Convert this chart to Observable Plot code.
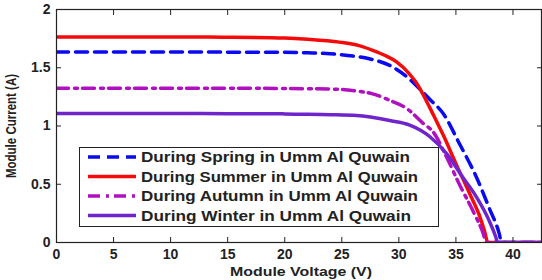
<!DOCTYPE html>
<html>
<head>
<meta charset="utf-8">
<script src="https://cdn.jsdelivr.net/npm/d3@7"></script>
<script src="https://cdn.jsdelivr.net/npm/@observablehq/plot@0.6"></script>
<style>
  html, body { margin: 0; padding: 0; background: #fff; }
  #wrap { position: relative; width: 542px; height: 280px; font-family: "Liberation Sans", Arial, sans-serif; }
  #legend { position: absolute; left: 79px; top: 147px; width: 360px; height: 80px; box-sizing: border-box; border: 1.5px solid #222; background: #fff; }
</style>
</head>
<body>
<div id="wrap"></div>
<script>
// ---- data ----
const seriesNames = [
  "During Spring in Umm Al Quwain",
  "During Summer in Umm Al Quwain",
  "During Autumn in Umm Al Quwain",
  "During Winter in Umm Al Quwain"
];
const springV = [0, 5, 10, 15, 20, 22, 24, 26, 27.4, 29.2, 30.9, 31.5, 32.7, 33.9, 35.3, 36.8, 37.9, 38.8, 39.0, 40, 42.5];
const springI = [1.635, 1.635, 1.635, 1.634, 1.633, 1.628, 1.62, 1.60, 1.577, 1.52, 1.405, 1.35, 1.23, 1.105, 0.85, 0.56, 0.30, 0.075, 0, 0, 0];
const summerV = [0, 5, 10, 15, 20, 22, 24.8, 26.5, 27.7, 28.8, 29.8, 30.9, 31.5, 32.7, 33.3, 33.9, 35.0, 36.2, 37.1, 37.5, 37.8, 40, 42.5];
const summerI = [1.765, 1.765, 1.764, 1.762, 1.755, 1.745, 1.72, 1.69, 1.65, 1.605, 1.55, 1.45, 1.375, 1.16, 1.04, 0.92, 0.676, 0.42, 0.22, 0.1, 0, 0, 0];
const autumnV = [0, 5, 10, 15, 20, 22, 24.8, 26.3, 27.7, 29.2, 30.7, 32.1, 33.0, 34.2, 35.3, 36.5, 37.4, 37.65, 40, 42.5];
const autumnI = [1.325, 1.325, 1.325, 1.324, 1.322, 1.32, 1.315, 1.30, 1.276, 1.22, 1.15, 1.025, 0.95, 0.73, 0.50, 0.27, 0.075, 0, 0, 0];
const winterV = [0, 5, 10, 15, 20, 22, 24, 26.3, 29.2, 30.9, 32.7, 34.2, 35.6, 36.8, 37.9, 38.5, 38.65, 40, 42.5];
const winterI = [1.107, 1.107, 1.107, 1.106, 1.104, 1.10, 1.097, 1.09, 1.047, 1.01, 0.91, 0.76, 0.56, 0.39, 0.19, 0.045, 0, 0, 0];
const xTicks = [0, 5, 10, 15, 20, 25, 30, 35, 40];
const yTicks = [0, 0.5, 1, 1.5, 2];
const xLabel = "Module Voltage (V)";
const yLabel = "Module Current (A)";

// ---- styles ----
const styles = [
  {stroke: "#0a0af0", dash: "12,7"},
  {stroke: "#f50a0a", dash: null},
  {stroke: "#b010bf", dash: "12,6,3,5"},
  {stroke: "#7024cc", dash: null}
];
const sets = [[springV, springI], [summerV, summerI], [autumnV, autumnI], [winterV, winterI]];
const rows = sets.map(([V, I], k) => V.map((v, i) => ({v, i: I[i], s: seriesNames[k]})));

const lineMarks = rows.map((data, k) => Plot.line(data, {
  x: "v", y: "i", stroke: styles[k].stroke, strokeWidth: 3.5,
  strokeDasharray: styles[k].dash, curve: "monotone-x", clip: true
}));

const chart = Plot.plot({
  width: 542, height: 280,
  marginLeft: 56, marginRight: 1, marginTop: 9, marginBottom: 38,
  style: {fontFamily: "'Liberation Sans', Arial, sans-serif", fontWeight: "bold", fontSize: "13px", color: "#222", background: "#fff"},
  x: {domain: [0, 42.5], ticks: xTicks, label: null},
  y: {domain: [0, 2], ticks: yTicks, label: null},
  marks: [
    ...lineMarks,
    Plot.frame({stroke: "#222", strokeWidth: 1.2}),
    Plot.axisX(xTicks, {anchor: "bottom", tickSize: 5, dy: -5, text: null, stroke: "#222"}),
    Plot.axisX(xTicks, {anchor: "top", tickSize: 5, dy: 5, text: null, stroke: "#222"}),
    Plot.axisY(yTicks, {anchor: "left", tickSize: 5, dx: 5, text: null, stroke: "#222"}),
    Plot.axisY(yTicks, {anchor: "right", tickSize: 5, dx: -5, text: null, stroke: "#222"}),
    Plot.axisX(xTicks, {anchor: "bottom", tickSize: 0, tickPadding: 7, label: null, fontSize: 14, fill: "#222", tickFormat: d => String(d)}),
    Plot.axisY(yTicks, {anchor: "left", tickSize: 0, tickPadding: 6, label: null, fontSize: 14, fill: "#222", tickFormat: d => String(d)}),
    Plot.text([xLabel], {frameAnchor: "bottom", dy: 29, dx: 2, lineAnchor: "middle", textAnchor: "middle", fontSize: 13.5, fill: "#222"}),
    Plot.text([yLabel], {frameAnchor: "left", dx: -45, rotate: -90, textAnchor: "middle", lineAnchor: "middle", fontSize: 14, fill: "#222"})
  ]
});
// stretch axis titles to the reference's text extents
chart.querySelectorAll("text").forEach(t => {
  if (t.textContent === xLabel) { t.setAttribute("textLength", 142); t.setAttribute("lengthAdjust", "spacingAndGlyphs"); }
  if (t.textContent === yLabel) { t.setAttribute("textLength", 104); t.setAttribute("lengthAdjust", "spacingAndGlyphs"); }
});
document.getElementById("wrap").appendChild(chart);

// ---- legend ----
const legendEnds = [269, 277, 277, 270];
const legend = document.createElement("div");
legend.id = "legend";
const ns = "http://www.w3.org/2000/svg";
const lsvg = document.createElementNS(ns, "svg");
lsvg.setAttribute("width", 357);
lsvg.setAttribute("height", 77);
seriesNames.forEach((name, k) => {
  const y = 9 + k * 19.5;
  const ln = document.createElementNS(ns, "line");
  ln.setAttribute("x1", 8); ln.setAttribute("x2", 56);
  ln.setAttribute("y1", y); ln.setAttribute("y2", y);
  ln.setAttribute("stroke", styles[k].stroke);
  ln.setAttribute("stroke-width", 3.5);
  if (styles[k].dash) ln.setAttribute("stroke-dasharray", styles[k].dash);
  lsvg.appendChild(ln);
  const t = document.createElementNS(ns, "text");
  t.setAttribute("x", 61); t.setAttribute("y", y);
  t.setAttribute("dy", "0.36em");
  t.setAttribute("font-family", "'Liberation Sans', Arial, sans-serif");
  t.setAttribute("font-weight", "bold");
  t.setAttribute("font-size", 14);
  t.setAttribute("fill", "#222");
  t.setAttribute("textLength", legendEnds[k]);
  t.setAttribute("lengthAdjust", "spacingAndGlyphs");
  t.textContent = name;
  lsvg.appendChild(t);
});
legend.appendChild(lsvg);
document.getElementById("wrap").appendChild(legend);
</script>
</body>
</html>
